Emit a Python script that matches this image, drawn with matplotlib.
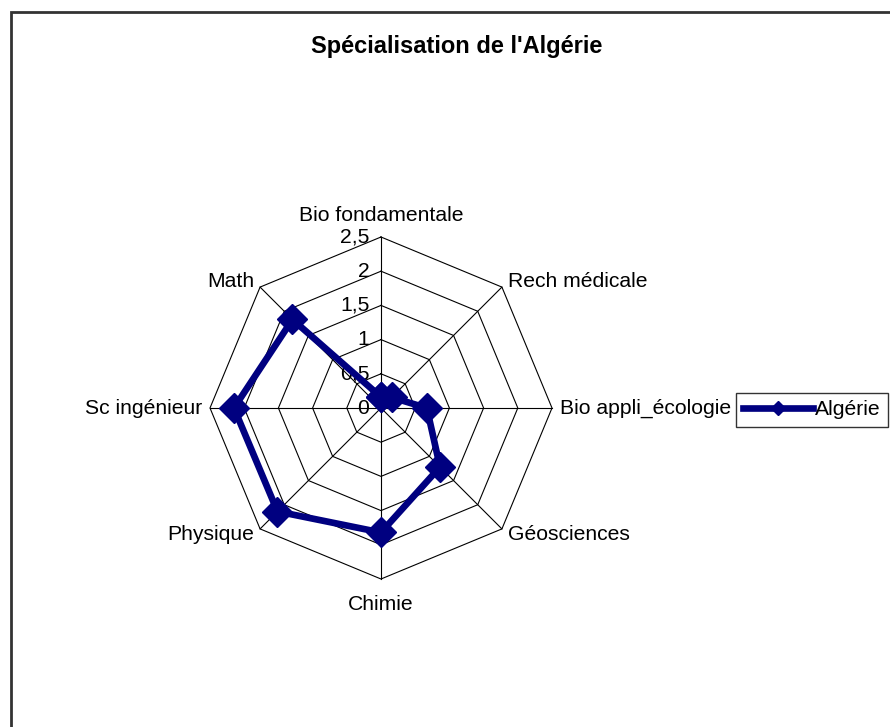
import numpy as np
import matplotlib
matplotlib.use("Agg")
import matplotlib.pyplot as plt
from matplotlib.patches import Rectangle

categories = ["Bio fondamentale", "Rech médicale", "Bio appli_écologie", "Géosciences",
              "Chimie", "Physique", "Sc ingénieur", "Math"]
values = [0.16, 0.22, 0.67, 1.22, 1.82, 2.14, 2.15, 1.83]
series_name = "Algérie"
ticks = [0, 0.5, 1, 1.5, 2, 2.5]
tick_labels = ["0", "0,5", "1", "1,5", "2", "2,5"]
title = "Spécialisation de l'Algérie"

plt.rcParams['font.family'] = ['Liberation Sans', 'DejaVu Sans']
FS = 15.2

W, H = 890, 727
fig = plt.figure(figsize=(W / 100, H / 100), dpi=100)

# outer frame
fig.patches.append(Rectangle((11 / W, -0.05), 1.2, (H - 12) / H + 0.05, transform=fig.transFigure,
                             fill=False, edgecolor="#333333", linewidth=2))

cx, cy = 381, H - 408
L = 3.0
scale = 171 / 2.5
aw = 2 * L * scale
ax = fig.add_axes([(cx - aw / 2) / W, (cy - aw / 2) / H, aw / W, aw / H])
ax.set_xlim(-L, L)
ax.set_ylim(-L, L)
ax.set_aspect("equal")
ax.axis("off")

n = len(categories)
angles = np.pi / 2 - np.arange(n) * 2 * np.pi / n
rmax = ticks[-1]

# polygon grid
for t in ticks[1:]:
    xs = np.append(t * np.cos(angles), t * np.cos(angles[0]))
    ys = np.append(t * np.sin(angles), t * np.sin(angles[0]))
    ax.plot(xs, ys, color="black", lw=0.8, zorder=1)
for a in angles:
    ax.plot([0, rmax * np.cos(a)], [0, rmax * np.sin(a)], color="black", lw=0.8, zorder=1)

# tick labels
for t, lab in zip(ticks, tick_labels):
    ax.text(-0.17, t, lab, ha="right", va="center", fontsize=FS, zorder=3)

# category labels
for a, cat in zip(angles, categories):
    c, s = np.cos(a), np.sin(a)
    r = rmax + 0.12
    x, y = r * c, r * s
    if abs(c) < 1e-6:
        ha = "center"
        va = "bottom" if s > 0 else "top"
        y += 0.05 if s > 0 else -0.12
    else:
        ha = "left" if c > 0 else "right"
        va = "center"
    ax.text(x, y, cat, ha=ha, va=va, fontsize=FS, zorder=3)

# data
vals = np.array(values)
xs = vals * np.cos(angles)
ys = vals * np.sin(angles)
xs = np.append(xs, xs[0])
ys = np.append(ys, ys[0])
line, = ax.plot(xs, ys, color="#000080", lw=4.8, marker="D", markersize=15,
                markerfacecolor="#000080", markeredgecolor="#000080", zorder=4, label=series_name)

fig.text(457 / W, 1 - 47 / H, title, ha="center", va="center", fontsize=17, fontweight="bold")

leg = fig.legend(handles=[line], labels=[series_name], loc="upper left",
                 bbox_to_anchor=(736 / W, 1 - 393 / H), fontsize=FS, frameon=True,
                 fancybox=False, edgecolor="black", handlelength=3.3, handletextpad=0.1,
                 borderpad=0.35, borderaxespad=0, markerscale=0.5)
leg.get_frame().set_linewidth(1.0)

fig.savefig("out.png", dpi=100)
